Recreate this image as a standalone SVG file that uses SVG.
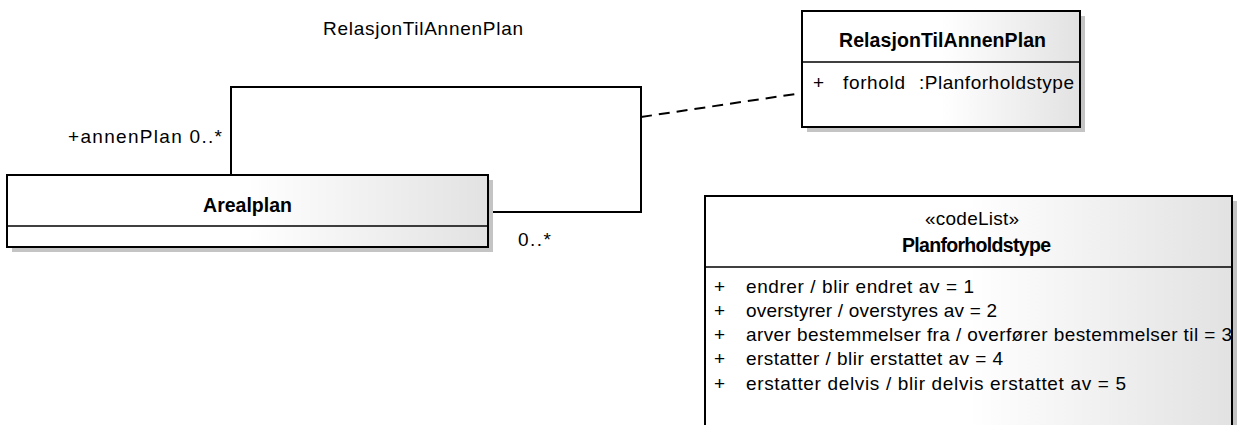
<svg xmlns="http://www.w3.org/2000/svg" width="1237" height="425" viewBox="0 0 1237 425">
<defs>
<linearGradient id="g" x1="0" y1="0" x2="1" y2="0">
<stop offset="0" stop-color="#ffffff"/>
<stop offset="0.5" stop-color="#ffffff"/>
<stop offset="1" stop-color="#e2e2e2"/>
</linearGradient>
<style>
.box{fill:url(#g);stroke:#000;stroke-width:2}
.sh{fill:#c4c4c4}
.div{stroke:#000;stroke-width:1.5}
.t{font-family:"Liberation Sans",Arial,sans-serif;font-size:19px;fill:#000}
.b{font-weight:bold;font-size:19.5px}
.c{stroke:#000;stroke-width:2;fill:none}
.d{stroke:#000;stroke-width:2;fill:none;stroke-dasharray:11,7}
</style>
</defs>
<rect width="1237" height="425" fill="#fff"/>
<g id="connectors">
<polyline class="c" points="231,175 231,87 641,87 641,212 488,212"/>
<line class="d" x1="641" y1="117" x2="802" y2="93"/>
<text class="t" x="323" y="35" textLength="200" lengthAdjust="spacing">RelasjonTilAnnenPlan</text>
<text class="t" x="68" y="143" textLength="154" lengthAdjust="spacing">+annenPlan 0..*</text>
<text class="t" x="518" y="246" textLength="33" lengthAdjust="spacing">0..*</text>
</g>
<g id="Arealplan">
<rect class="sh" x="12" y="180" width="481" height="72"/>
<rect class="box" x="7" y="175" width="481" height="72"/>
<line class="div" x1="7" y1="226" x2="488" y2="226"/>
<text class="t b" x="247.5" y="212" text-anchor="middle">Arealplan</text>
</g>
<g id="RelasjonTilAnnenPlan">
<rect class="sh" x="807" y="16" width="278" height="116"/>
<rect class="box" x="802" y="11" width="278" height="116"/>
<line class="div" x1="802" y1="62" x2="1080" y2="62"/>
<text class="t b" x="839" y="47" textLength="207" lengthAdjust="spacing">RelasjonTilAnnenPlan</text>
<text class="t" x="813" y="89">+</text>
<text class="t" x="843" y="89" textLength="62" lengthAdjust="spacing">forhold</text>
<text class="t" x="919" y="89" textLength="155" lengthAdjust="spacing">:Planforholdstype</text>
</g>
<g id="Planforholdstype">
<rect class="sh" x="710" y="201" width="527" height="240"/>
<rect class="box" x="705" y="196" width="527" height="240"/>
<line class="div" x1="705" y1="267" x2="1232" y2="267"/>
<text class="t" x="925" y="225" textLength="94" lengthAdjust="spacing">«codeList»</text>
<text class="t b" x="902" y="252" textLength="149" lengthAdjust="spacing">Planforholdstype</text>
<text class="t" x="714" y="293">+</text>
<text class="t" x="746" y="293" textLength="228" lengthAdjust="spacing">endrer / blir endret av = 1</text>
<text class="t" x="714" y="317">+</text>
<text class="t" x="746" y="317" textLength="251" lengthAdjust="spacing">overstyrer / overstyres av = 2</text>
<text class="t" x="714" y="341">+</text>
<text class="t" x="746" y="341" textLength="486" lengthAdjust="spacing">arver bestemmelser fra / overfører bestemmelser til = 3</text>
<text class="t" x="714" y="365">+</text>
<text class="t" x="746" y="365" textLength="257" lengthAdjust="spacing">erstatter / blir erstattet av = 4</text>
<text class="t" x="714" y="390">+</text>
<text class="t" x="746" y="390" textLength="380" lengthAdjust="spacing">erstatter delvis / blir delvis erstattet av  = 5</text>
</g>
</svg>
